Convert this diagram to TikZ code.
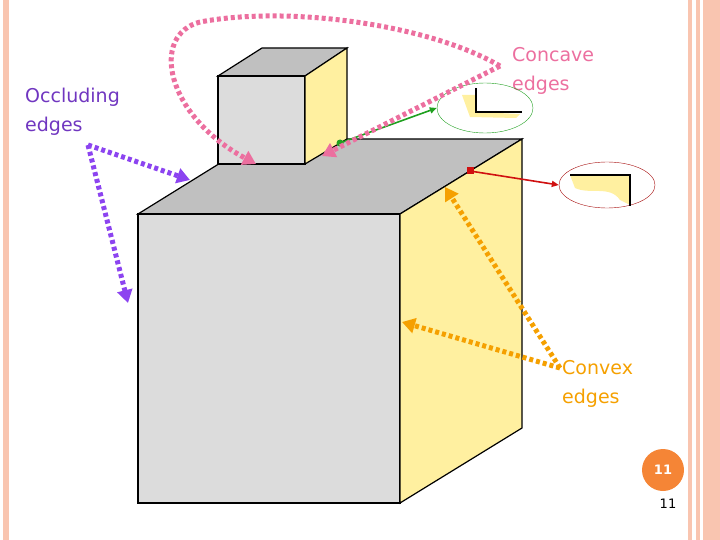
\documentclass[tikz,border=0pt]{standalone}
\usepackage{fontspec}
\setmainfont{DejaVu Sans}
\usetikzlibrary{arrows.meta,shapes.geometric}
\definecolor{stripe}{HTML}{F9C5B0}
\definecolor{fgray}{HTML}{DCDCDC}
\definecolor{tgray}{HTML}{C0C0C0}
\definecolor{yel}{HTML}{FFF0A0}
\definecolor{pinkc}{HTML}{EC6F9F}
\definecolor{purp}{HTML}{8C44F0}
\definecolor{oran}{HTML}{F5A000}
\definecolor{grn}{HTML}{1FA01F}
\definecolor{redc}{HTML}{D01010}
\definecolor{numc}{HTML}{F58536}
\begin{document}
\begin{tikzpicture}[x=1pt,y=-1pt,
 face/.style={draw=black,line width=1.2pt},
 dots/.style={line width=5pt,dash pattern=on 4pt off 3pt,-{Triangle[length=13pt,width=15pt]}},
 lbl/.style={font=\fontsize{19}{29}\selectfont,align=left,anchor=north west,inner sep=0pt}]
\useasboundingbox (0,0) rectangle (720,540);
\fill[stripe] (3,0) rectangle (9,540);
\fill[stripe] (688,0) rectangle (692,540);
\fill[stripe] (696,0) rectangle (700,540);
\fill[stripe] (703,0) rectangle (720,540);
% big box
\filldraw[face,fill=tgray] (138,214) -- (400,214) -- (522,139) -- (259,139) -- cycle;
\filldraw[face,fill=fgray] (138,214) rectangle (400,503);
\filldraw[face,fill=yel] (400,214) -- (522,139) -- (522,428) -- (400,503) -- cycle;
% small cube
\filldraw[face,fill=tgray] (218,76) -- (262,48) -- (347,48) -- (305,76) -- cycle;
\filldraw[face,fill=fgray] (218,76) rectangle (305,164);
\filldraw[face,fill=yel] (305,76) -- (347,48) -- (347,139) -- (305,164) -- cycle;
% labels
\node[lbl,text=purp!80!black] (occ) at (25,88) {Occluding\\edges};
\node[lbl,text=pinkc] (conc) at (512,47) {Concave\\edges};
\node[lbl,text=oran] (conv) at (562,360) {Convex\\edges};
% insets
\node[draw=grn,ellipse,minimum width=96pt,minimum height=50pt,inner sep=0pt] (ge) at (485,108) {};
\fill[yel] (462,95) -- (476,95) -- (476,112) -- (520,114) -- (516,118) -- (470,117) -- cycle;
\draw[line width=1.2pt] (476,88) -- (476,112) -- (522,112);
\node[draw=redc!80!black,ellipse,minimum width=96pt,minimum height=46pt,inner sep=0pt] (re) at (607,185) {};
\fill[yel] (570,175) -- (630,175) -- (630,205) -- (620,200) .. controls (610,185) and (590,195) .. (575,188) -- cycle;
\draw[line width=1.2pt] (570,175) -- (630,175) -- (630,206);
% connectors
\coordinate (g1) at (340,143);
\coordinate (r1) at (470,171);
\draw[grn,line width=1.6pt,-{Triangle[length=7pt,width=6pt]}] (g1) -- (ge.west);
\fill[grn] (g1) circle (3.5);
\draw[redc,line width=1.6pt,-{Triangle[length=7pt,width=6pt]}] (r1) -- (re.west);
\fill[redc] (r1) ++(-3.5,-3.5) rectangle ++(7,7);
\coordinate (p0) at (500,66);
\coordinate (p1) at (256,164);
\coordinate (p2) at (322,156);
\draw[pinkc,dots] (p0) .. controls (430,25) and (290,5) .. (200,22) .. controls (150,35) and (165,115) .. (p1);
\draw[pinkc,dots] (p0) -- (p2);
\coordinate (o0) at (88,145);
\draw[purp,dots] (o0) -- (190,180);
\draw[purp,dots] (o0) -- (128,303);
\coordinate (c0) at (560,368);
\draw[oran,dots] (c0) -- (445,187);
\draw[oran,dots] (c0) -- (402,322);
% page number
\node[circle,fill=numc,minimum size=42pt,inner sep=0pt,text=white,font=\bfseries\fontsize{13}{15}\selectfont] (pn) at (663,470) {11};
\node[font=\fontsize{13}{15}\selectfont] (pn2) at (668,504) {11};
\end{tikzpicture}
\end{document}
